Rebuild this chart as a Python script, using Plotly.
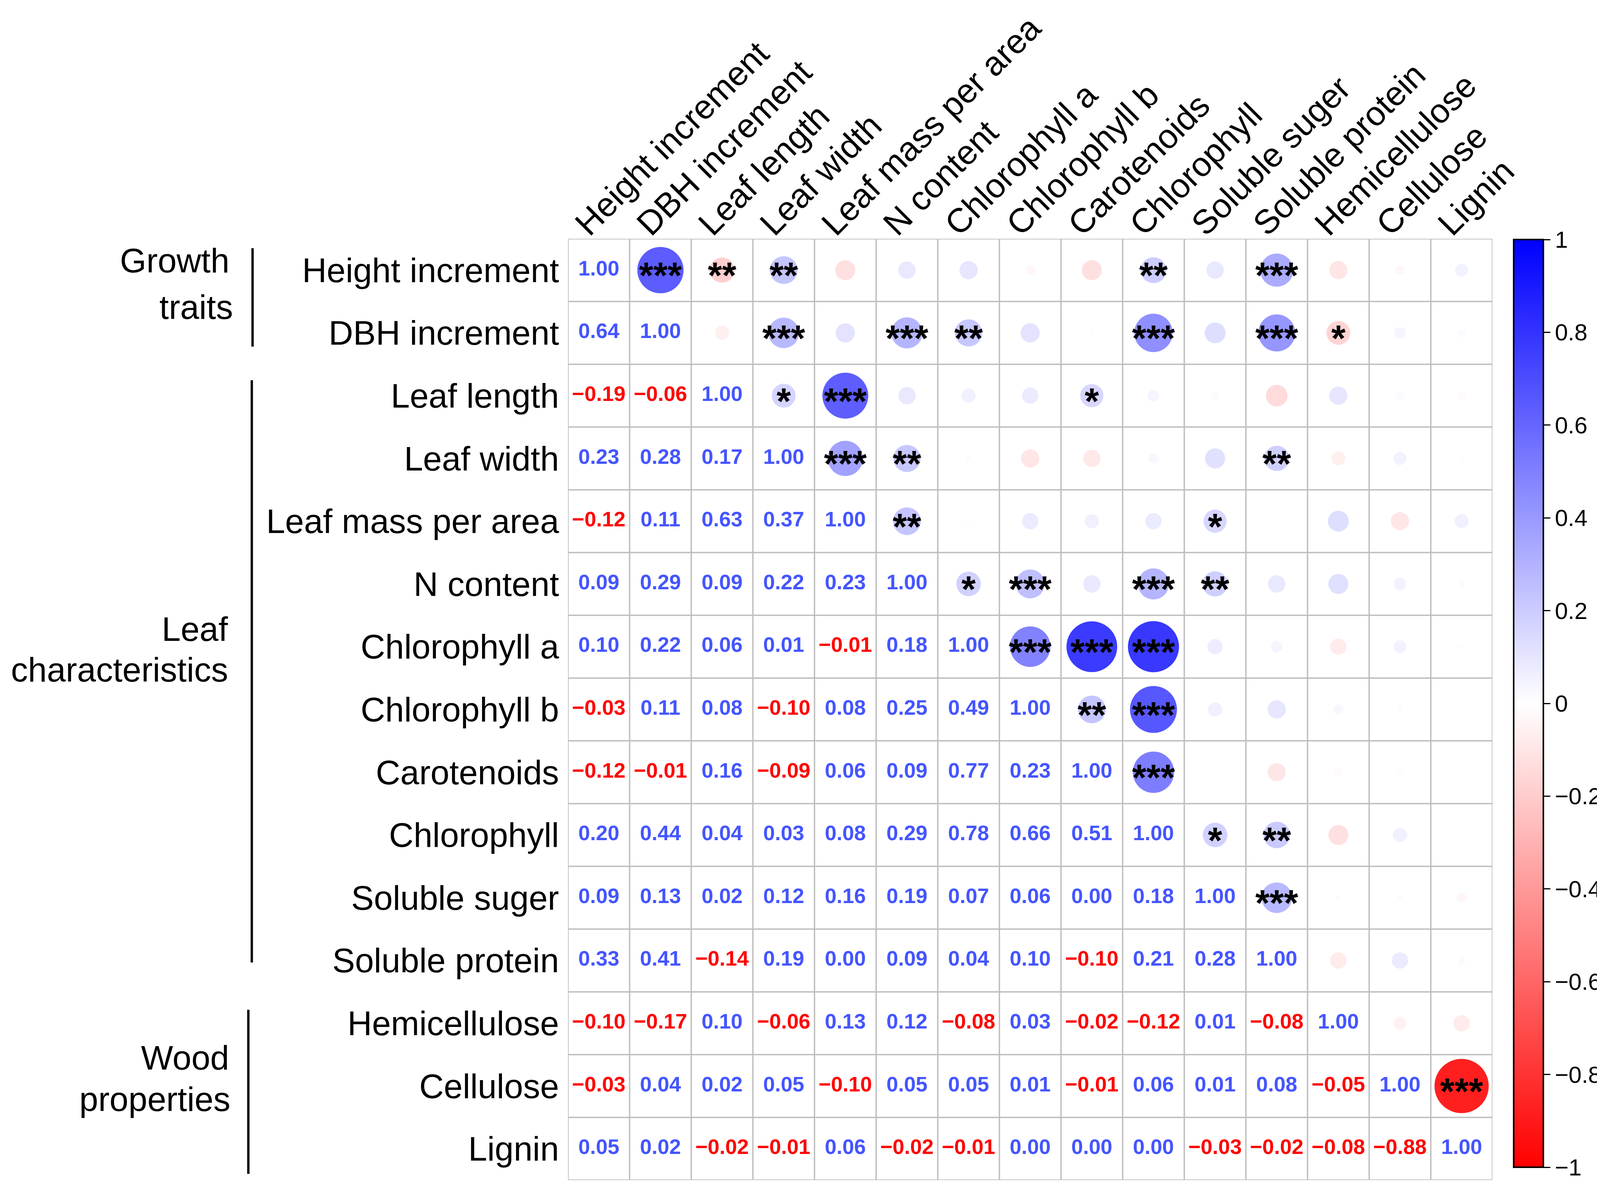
import math
import plotly.graph_objects as go

# ---------------- data ----------------
labels = ["Height increment", "DBH increment", "Leaf length", "Leaf width",
          "Leaf mass per area", "N content", "Chlorophyll a", "Chlorophyll b",
          "Carotenoids", "Chlorophyll", "Soluble suger", "Soluble protein",
          "Hemicellulose", "Cellulose", "Lignin"]

# lower triangle (row i, columns 0..i) of the correlation matrix
corr_lower = [
    [1.00],
    [0.64, 1.00],
    [-0.19, -0.06, 1.00],
    [0.23, 0.28, 0.17, 1.00],
    [-0.12, 0.11, 0.63, 0.37, 1.00],
    [0.09, 0.29, 0.09, 0.22, 0.23, 1.00],
    [0.10, 0.22, 0.06, 0.01, -0.01, 0.18, 1.00],
    [-0.03, 0.11, 0.08, -0.10, 0.08, 0.25, 0.49, 1.00],
    [-0.12, -0.01, 0.16, -0.09, 0.06, 0.09, 0.77, 0.23, 1.00],
    [0.20, 0.44, 0.04, 0.03, 0.08, 0.29, 0.78, 0.66, 0.51, 1.00],
    [0.09, 0.13, 0.02, 0.12, 0.16, 0.19, 0.07, 0.06, 0.00, 0.18, 1.00],
    [0.33, 0.41, -0.14, 0.19, 0.00, 0.09, 0.04, 0.10, -0.10, 0.21, 0.28, 1.00],
    [-0.10, -0.17, 0.10, -0.06, 0.13, 0.12, -0.08, 0.03, -0.02, -0.12, 0.01, -0.08, 1.00],
    [-0.03, 0.04, 0.02, 0.05, -0.10, 0.05, 0.05, 0.01, -0.01, 0.06, 0.01, 0.08, -0.05, 1.00],
    [0.05, 0.02, -0.02, -0.01, 0.06, -0.02, -0.01, 0.00, 0.00, 0.00, -0.03, -0.02, -0.08, -0.88, 1.00],
]

# significance stars for the upper triangle (row i, columns i+1..n-1)
sig_upper = [
    ["***", "**", "**", "", "", "", "", "", "**", "", "***", "", "", ""],
    ["", "***", "", "***", "**", "", "", "***", "", "***", "*", "", ""],
    ["*", "***", "", "", "", "*", "", "", "", "", "", ""],
    ["***", "**", "", "", "", "", "", "**", "", "", ""],
    ["**", "", "", "", "", "*", "", "", "", ""],
    ["*", "***", "", "***", "**", "", "", "", ""],
    ["***", "***", "***", "", "", "", "", ""],
    ["**", "***", "", "", "", "", ""],
    ["***", "", "", "", "", ""],
    ["*", "**", "", "", ""],
    ["***", "", "", ""],
    ["", "", ""],
    ["", ""],
    ["***"],
    [],
]

group_lines = [["Growth", "traits"], ["Leaf", "characteristics"], ["Wood", "properties"]]
cbar_ticks = [-1, -0.8, -0.6, -0.4, -0.2, 0, 0.2, 0.4, 0.6, 0.8, 1]
cbar_labels = ["\u22121", "\u22120.8", "\u22120.6", "\u22120.4", "\u22120.2", "0",
               "0.2", "0.4", "0.6", "0.8", "1"]

# ---------------- layout constants ----------------
W, H = 4254, 3035
GRID_L, GRID_R, GRID_T, GRID_B = 1471, 3880, 603, 3012
CB_L, CB_T, CB_B = 3935, 605, 2979
n = len(labels)
CELL = (GRID_R - GRID_L) / n
CIRCLE_MAX = 148
FONT = "Liberation Sans, Arial, sans-serif"
BLUE_TXT = "#4455FF"
RED_TXT = "#FF0000"
STAR_SIZE = 94
CB_FONT = 60


def px_x(p):
    return p / W


def px_y(p):
    return 1 - p / H


def r_at(i, j):
    return corr_lower[max(i, j)][min(i, j)]


def fmt(v):
    s = f"{abs(v):.2f}"
    return ("\u2212" + s) if v < 0 else s


# circles (upper triangle)
cx, cy, cval, csize = [], [], [], []
for i in range(n):
    for j in range(i + 1, n):
        r = r_at(i, j)
        cx.append(j + 1)
        cy.append(i + 1)
        cval.append(r)
        csize.append(CIRCLE_MAX * math.sqrt(abs(r)))

# numbers (lower triangle + diagonal)
tx, ty, ttext, tcol = [], [], [], []
for i in range(n):
    for j in range(i + 1):
        r = corr_lower[i][j]
        tx.append(j + 1)
        ty.append(i + 1)
        ttext.append(fmt(r))
        tcol.append(RED_TXT if r < 0 else BLUE_TXT)

# stars
star_offset = 0.24 * STAR_SIZE / CELL
sx, sy, stext = [], [], []
for i in range(n):
    for k, s in enumerate(sig_upper[i]):
        if s:
            sx.append(i + 2 + k)
            sy.append(i + 1 + star_offset)
            stext.append(s)

fig = go.Figure()

fig.add_trace(go.Scatter(
    x=cx, y=cy, mode="markers", hoverinfo="skip",
    marker=dict(
        size=csize, color=cval, cmin=-1, cmax=1,
        colorscale=[[0, "#FF0000"], [0.5, "#FFFFFF"], [1, "#0000FF"]],
        line=dict(width=0), opacity=1,
        colorbar=dict(
            x=px_x(CB_L), xanchor="left", y=px_y((CB_T + CB_B) / 2), yanchor="middle",
            len=(CB_B - CB_T) / H, lenmode="fraction",
            thickness=76, thicknessmode="pixels",
            outlinewidth=4, outlinecolor="black",
            ticks="outside", ticklen=16, tickwidth=3, tickcolor="black",
            tickvals=cbar_ticks, ticktext=cbar_labels,
            tickfont=dict(family=FONT, size=CB_FONT, color="black"),
            xpad=0, ypad=0,
        ),
    ),
    showlegend=False,
))

fig.add_trace(go.Scatter(
    x=tx, y=ty, mode="text", text=ttext, hoverinfo="skip",
    textposition="middle center",
    textfont=dict(family=FONT, size=54, color=tcol, weight="bold"),
    showlegend=False,
))

fig.add_trace(go.Scatter(
    x=sx, y=sy, mode="text", text=stext, hoverinfo="skip",
    textposition="middle center",
    textfont=dict(family=FONT, size=STAR_SIZE, color="black", weight="bold"),
    showlegend=False,
))

shapes = []
for k in range(n + 1):
    shapes.append(dict(type="line", xref="x", yref="y", x0=0.5 + k, x1=0.5 + k, y0=0.5, y1=n + 0.5,
                       line=dict(color="#BEBEBE", width=3.5), layer="below"))
    shapes.append(dict(type="line", xref="x", yref="y", y0=0.5 + k, y1=0.5 + k, x0=0.5, x1=n + 0.5,
                       line=dict(color="#BEBEBE", width=3.5), layer="below"))

# group brackets
bracket_px = [(649, 627, 879), (647, 965, 2455), (638, 2576, 2996)]
for (bx, by0, by1) in bracket_px:
    shapes.append(dict(type="line", xref="paper", yref="paper",
                       x0=px_x(bx), x1=px_x(bx), y0=px_y(by0), y1=px_y(by1),
                       line=dict(color="black", width=6)))

annotations = []
group_text_px = [((590, 658), (601, 777)), ((587, 1601), (587, 1706)), ((590, 2698), (593, 2804))]
for lines, poss in zip(group_lines, group_text_px):
    for txt, (gx, gy) in zip(lines, poss):
        annotations.append(dict(text=txt, xref="paper", yref="paper", x=px_x(gx), y=px_y(gy),
                                xanchor="right", yanchor="middle", showarrow=False,
                                font=dict(family=FONT, size=87, color="black")))

fig.update_layout(
    width=W, height=H,
    margin=dict(l=0, r=0, t=0, b=0),
    paper_bgcolor="white", plot_bgcolor="white",
    shapes=shapes, annotations=annotations,
    xaxis=dict(domain=[px_x(GRID_L), px_x(GRID_R)], range=[0.5, n + 0.5], side="top",
               tickmode="array", tickvals=list(range(1, n + 1)), ticktext=labels,
               tickangle=-45, ticks="", showgrid=False, zeroline=False, showline=False,
               tickfont=dict(family=FONT, size=87, color="black"),
               ticklabelstandoff=-28, ticklabelshift=-55),
    yaxis=dict(domain=[px_y(GRID_B), px_y(GRID_T)], range=[n + 0.5, 0.5],
               tickmode="array", tickvals=list(range(1, n + 1)), ticktext=labels,
               ticks="", showgrid=False, zeroline=False, showline=False,
               tickfont=dict(family=FONT, size=87, color="black"), ticklabelstandoff=22),
)

fig.write_html("out.html")
